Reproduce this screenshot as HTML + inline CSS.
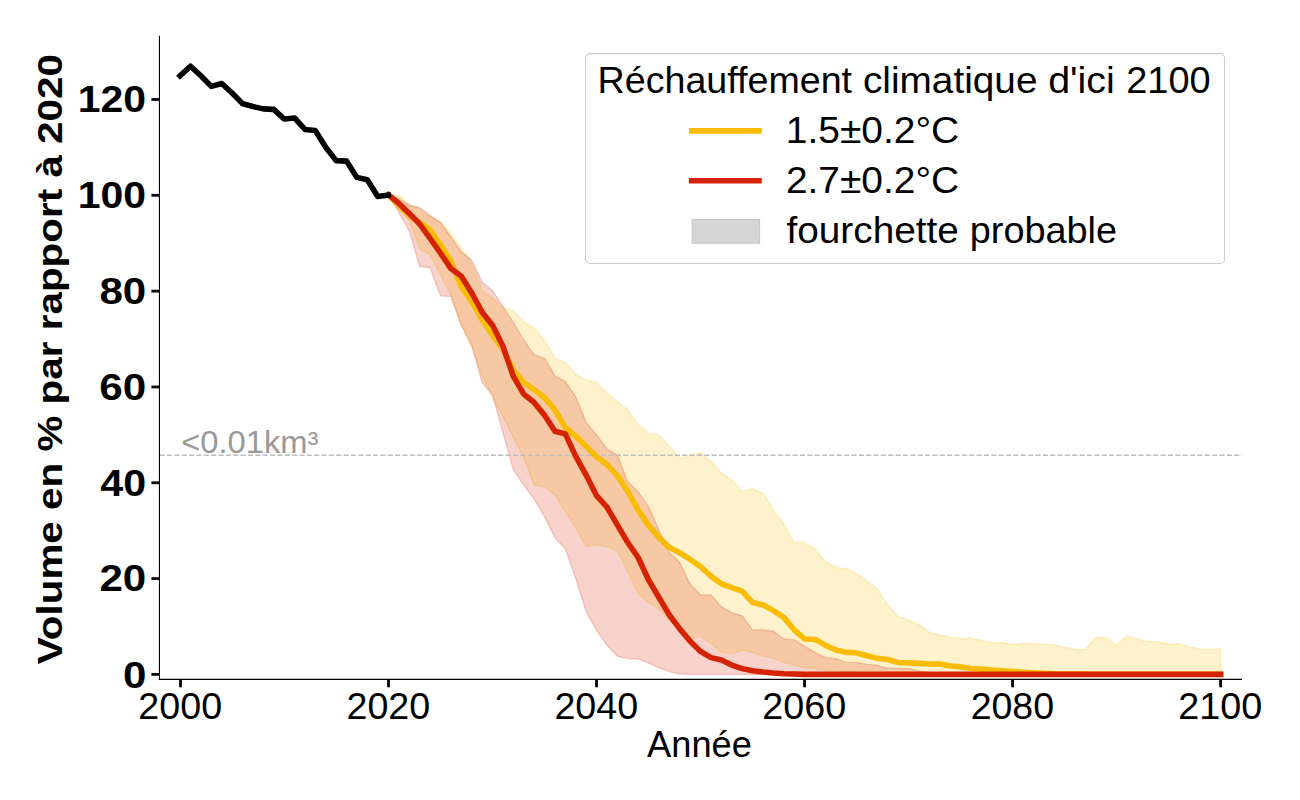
<!DOCTYPE html>
<html><head><meta charset="utf-8"><style>
html,body{margin:0;padding:0;background:#fff;width:1300px;height:800px;overflow:hidden}
svg{display:block;font-family:"Liberation Sans", sans-serif}
</style></head><body>
<svg width="1300" height="800" viewBox="0 0 1300 800">
<rect width="1300" height="800" fill="#fff"/>
<polygon points="388.52,194.82 398.92,195.30 409.32,204.88 419.72,208.71 430.12,216.86 440.52,221.65 450.93,233.63 461.33,248.00 471.73,263.33 482.13,290.64 492.53,297.83 502.93,307.89 513.33,310.76 523.73,321.78 534.13,328.01 544.53,339.99 554.94,358.19 565.34,362.51 575.74,374.48 586.14,379.75 596.54,382.63 606.94,392.69 617.34,401.31 627.74,409.94 638.14,424.31 648.55,433.41 658.95,434.85 669.35,445.87 679.75,458.80 690.15,454.97 700.55,452.58 710.95,461.20 721.35,472.70 731.75,479.89 742.15,491.38 752.55,488.75 762.96,493.30 773.36,510.07 783.76,523.48 794.16,542.17 804.56,542.65 814.96,548.88 825.36,561.33 835.76,567.56 846.16,568.76 856.56,573.31 866.97,580.50 877.37,589.12 887.77,604.93 898.17,616.43 908.57,620.02 918.97,624.57 929.37,632.24 939.77,635.11 950.17,637.03 960.57,638.95 970.98,637.99 981.38,640.62 991.78,642.78 1002.18,642.49 1012.58,644.70 1022.98,643.26 1033.38,643.74 1043.78,644.22 1054.18,644.94 1064.59,647.09 1074.99,649.25 1085.39,649.73 1095.79,637.03 1106.19,637.99 1116.59,644.94 1126.99,636.07 1137.39,638.95 1147.79,641.34 1158.19,641.58 1168.60,644.22 1179.00,643.74 1189.40,646.61 1199.80,649.25 1210.20,649.25 1220.60,649.25 1220.60,674.40 1210.20,674.40 1199.80,674.40 1189.40,674.40 1179.00,674.40 1168.60,674.40 1158.19,674.40 1147.79,674.40 1137.39,674.40 1126.99,674.40 1116.59,674.40 1106.19,674.40 1095.79,674.40 1085.39,674.40 1074.99,674.40 1064.59,674.40 1054.18,674.40 1043.78,674.40 1033.38,674.40 1022.98,674.40 1012.58,674.40 1002.18,674.40 991.78,674.40 981.38,674.40 970.98,674.40 960.57,674.40 950.17,674.40 939.77,674.40 929.37,674.40 918.97,674.40 908.57,674.40 898.17,673.92 887.77,673.44 877.37,672.96 866.97,672.72 856.56,672.48 846.16,672.48 835.76,671.24 825.36,670.09 814.96,668.65 804.56,667.69 794.16,665.01 783.76,662.42 773.36,658.11 762.96,656.19 752.55,652.36 742.15,649.97 731.75,653.80 721.35,652.36 710.95,643.74 700.55,636.07 690.15,638.95 679.75,629.84 669.35,620.02 658.95,608.76 648.55,602.53 638.14,593.91 627.74,572.35 617.34,551.27 606.94,546.48 596.54,545.04 586.14,546.48 575.74,527.80 565.34,511.99 554.94,495.22 544.53,487.07 534.13,485.16 523.73,457.85 513.33,437.72 502.93,416.17 492.53,397.48 482.13,374.96 471.73,347.65 461.33,325.14 450.93,294.95 440.52,274.83 430.12,254.71 419.72,248.96 409.32,220.69 398.92,206.32 388.52,194.82" fill="rgb(250,188,2)" fill-opacity="0.2" stroke="rgb(250,188,2)" stroke-opacity="0.2" stroke-width="1.4" stroke-linejoin="round"/>
<polygon points="388.52,194.82 398.92,198.65 409.32,204.88 419.72,207.76 430.12,215.42 440.52,222.61 450.93,236.98 461.33,251.83 471.73,259.98 482.13,282.02 492.53,290.64 502.93,306.45 513.33,322.26 523.73,339.99 534.13,354.84 544.53,358.19 554.94,375.92 565.34,381.67 575.74,397.00 586.14,422.39 596.54,434.85 606.94,449.22 617.34,454.97 627.74,481.80 638.14,491.86 648.55,506.71 658.95,530.19 669.35,552.71 679.75,562.29 690.15,584.33 700.55,594.87 710.95,594.87 721.35,606.85 731.75,612.60 742.15,615.95 752.55,629.84 762.96,629.84 773.36,631.28 783.76,638.95 794.16,639.90 804.56,646.13 814.96,652.36 825.36,657.63 835.76,658.59 846.16,662.42 856.56,662.42 866.97,664.34 877.37,665.30 887.77,668.41 898.17,668.41 908.57,668.65 918.97,671.05 929.37,672.48 939.77,672.96 950.17,673.44 960.57,673.92 970.98,674.16 981.38,674.16 991.78,674.16 1002.18,674.16 1012.58,674.16 1022.98,674.16 1033.38,674.16 1043.78,674.16 1054.18,674.16 1064.59,674.16 1074.99,674.16 1085.39,674.16 1095.79,674.16 1106.19,674.16 1116.59,674.16 1126.99,674.16 1137.39,674.16 1147.79,674.16 1158.19,674.16 1168.60,674.16 1179.00,674.16 1189.40,674.16 1199.80,674.16 1210.20,674.16 1220.60,674.16 1220.60,674.40 1210.20,674.40 1199.80,674.40 1189.40,674.40 1179.00,674.40 1168.60,674.40 1158.19,674.40 1147.79,674.40 1137.39,674.40 1126.99,674.40 1116.59,674.40 1106.19,674.40 1095.79,674.40 1085.39,674.40 1074.99,674.40 1064.59,674.40 1054.18,674.40 1043.78,674.40 1033.38,674.40 1022.98,674.40 1012.58,674.40 1002.18,674.40 991.78,674.40 981.38,674.40 970.98,674.40 960.57,674.40 950.17,674.40 939.77,674.40 929.37,674.40 918.97,674.40 908.57,674.40 898.17,674.40 887.77,674.40 877.37,674.40 866.97,674.40 856.56,674.40 846.16,674.40 835.76,674.40 825.36,674.40 814.96,674.40 804.56,674.40 794.16,674.40 783.76,674.40 773.36,674.40 762.96,674.40 752.55,674.40 742.15,674.40 731.75,674.40 721.35,674.40 710.95,674.40 700.55,674.40 690.15,674.40 679.75,673.92 669.35,671.72 658.95,667.69 648.55,662.90 638.14,659.07 627.74,658.59 617.34,656.19 606.94,645.17 596.54,630.32 586.14,611.64 575.74,578.58 565.34,548.88 554.94,537.86 544.53,516.78 534.13,499.05 523.73,485.16 513.33,469.82 502.93,432.45 492.53,395.08 482.13,382.63 471.73,345.02 461.33,325.14 450.93,296.39 440.52,295.91 430.12,267.64 419.72,266.69 409.32,231.23 398.92,212.55 388.52,194.82" fill="rgb(213,34,0)" fill-opacity="0.2" stroke="rgb(213,34,0)" stroke-opacity="0.2" stroke-width="1.4" stroke-linejoin="round"/>
<line x1="159.6" y1="455.3" x2="1242" y2="455.3" stroke="#bdbdbd" stroke-width="1.39" stroke-dasharray="5.14 2.22"/>
<polyline points="388.52,194.82 398.92,205.84 409.32,215.90 419.72,222.61 430.12,229.80 440.52,245.13 450.93,260.94 461.33,286.33 471.73,301.66 482.13,319.87 492.53,335.20 502.93,349.57 513.33,370.17 523.73,382.15 534.13,389.81 544.53,397.48 554.94,409.94 565.34,427.66 575.74,436.29 586.14,446.35 596.54,456.89 606.94,464.55 617.34,475.57 627.74,491.38 638.14,510.07 648.55,525.40 658.95,537.38 669.35,547.44 679.75,552.71 690.15,559.42 700.55,566.60 710.95,576.18 721.35,583.85 731.75,587.68 742.15,591.04 752.55,602.53 762.96,604.93 773.36,610.68 783.76,617.39 794.16,629.84 804.56,638.95 814.96,639.43 825.36,645.17 835.76,649.97 846.16,652.36 856.56,652.84 866.97,655.72 877.37,658.35 887.77,659.55 898.17,662.42 908.57,662.90 918.97,663.38 929.37,664.10 939.77,664.10 950.17,666.02 960.57,666.73 970.98,668.41 981.38,669.13 991.78,670.09 1002.18,670.81 1012.58,671.53 1022.98,672.24 1033.38,672.87 1043.78,673.35 1054.18,673.68 1064.59,673.92 1074.99,674.02 1085.39,674.11 1095.79,674.16 1106.19,674.16 1116.59,674.16 1126.99,674.16 1137.39,674.16 1147.79,674.16 1158.19,674.16 1168.60,674.16 1179.00,674.16 1189.40,674.16 1199.80,674.16 1210.20,674.16 1220.60,674.16" fill="none" stroke="rgb(250,188,2)" stroke-width="5.56" stroke-linejoin="round" stroke-linecap="square"/>
<polyline points="388.52,194.82 398.92,203.44 409.32,213.51 419.72,224.05 430.12,238.42 440.52,253.27 450.93,268.60 461.33,276.27 471.73,293.04 482.13,312.20 492.53,325.14 502.93,346.22 513.33,376.40 523.73,394.13 534.13,402.51 544.53,415.21 554.94,431.26 565.34,433.89 575.74,456.41 586.14,475.09 596.54,495.70 606.94,507.19 617.34,524.92 627.74,542.65 638.14,557.50 648.55,580.02 658.95,597.50 669.35,614.99 679.75,628.89 690.15,641.34 700.55,651.40 710.95,657.63 721.35,660.03 731.75,665.01 742.15,668.65 752.55,670.76 762.96,672.00 773.36,672.96 783.76,673.68 794.16,673.92 804.56,674.40 814.96,674.40 825.36,674.40 835.76,674.40 846.16,674.40 856.56,674.40 866.97,674.40 877.37,674.40 887.77,674.40 898.17,674.40 908.57,674.40 918.97,674.40 929.37,674.40 939.77,674.40 950.17,674.40 960.57,674.40 970.98,674.40 981.38,674.40 991.78,674.40 1002.18,674.40 1012.58,674.40 1022.98,674.40 1033.38,674.40 1043.78,674.40 1054.18,674.40 1064.59,674.40 1074.99,674.40 1085.39,674.40 1095.79,674.40 1106.19,674.40 1116.59,674.40 1126.99,674.40 1137.39,674.40 1147.79,674.40 1158.19,674.40 1168.60,674.40 1179.00,674.40 1189.40,674.40 1199.80,674.40 1210.20,674.40 1220.60,674.40" fill="none" stroke="rgb(213,34,0)" stroke-width="5.56" stroke-linejoin="round" stroke-linecap="square"/>
<polyline points="180.10,75.82 190.50,66.24 200.90,75.82 211.30,86.37 221.70,83.49 232.10,93.07 242.51,103.61 252.91,106.49 263.31,108.88 273.71,109.36 284.11,118.94 294.51,117.99 304.91,129.48 315.31,130.44 325.71,147.21 336.12,160.63 346.52,161.10 356.92,177.39 367.32,179.79 377.72,196.56 388.12,195.12" fill="none" stroke="#000" stroke-width="5.56" stroke-linejoin="round" stroke-linecap="square"/>
<line x1="159.45" y1="35.75" x2="159.45" y2="679.95" stroke="#000" stroke-width="1.11"/>
<line x1="158.9" y1="679.4" x2="1242" y2="679.4" stroke="#000" stroke-width="1.11"/>
<line x1="151.4" y1="674.40" x2="159.45" y2="674.40" stroke="#000" stroke-width="2.78"/>
<line x1="151.4" y1="578.58" x2="159.45" y2="578.58" stroke="#000" stroke-width="2.78"/>
<line x1="151.4" y1="482.76" x2="159.45" y2="482.76" stroke="#000" stroke-width="2.78"/>
<line x1="151.4" y1="386.94" x2="159.45" y2="386.94" stroke="#000" stroke-width="2.78"/>
<line x1="151.4" y1="291.12" x2="159.45" y2="291.12" stroke="#000" stroke-width="2.78"/>
<line x1="151.4" y1="195.30" x2="159.45" y2="195.30" stroke="#000" stroke-width="2.78"/>
<line x1="151.4" y1="99.48" x2="159.45" y2="99.48" stroke="#000" stroke-width="2.78"/>
<line x1="180.50" y1="679.4" x2="180.50" y2="687.3" stroke="#000" stroke-width="2.78"/>
<line x1="388.52" y1="679.4" x2="388.52" y2="687.3" stroke="#000" stroke-width="2.78"/>
<line x1="596.54" y1="679.4" x2="596.54" y2="687.3" stroke="#000" stroke-width="2.78"/>
<line x1="804.56" y1="679.4" x2="804.56" y2="687.3" stroke="#000" stroke-width="2.78"/>
<line x1="1012.58" y1="679.4" x2="1012.58" y2="687.3" stroke="#000" stroke-width="2.78"/>
<line x1="1220.60" y1="679.4" x2="1220.60" y2="687.3" stroke="#000" stroke-width="2.78"/>
<rect x="585.6" y="53.6" width="638.9" height="209.9" rx="4.5" ry="4.5" fill="#fff" fill-opacity="0.8" stroke="#cccccc" stroke-width="1.1"/>
<line x1="691.7" y1="130.9" x2="759" y2="130.9" stroke="rgb(250,188,2)" stroke-width="5.56" stroke-linecap="square"/>
<line x1="691.6" y1="180.75" x2="759" y2="180.75" stroke="rgb(213,34,0)" stroke-width="5.56" stroke-linecap="square"/>
<rect x="692.2" y="219.5" width="67.4" height="23.7" fill="#d5d5d5" stroke="#c6c6c6" stroke-width="1.1"/>
<text x="122.92" y="687.58" font-size="36.20" font-weight="bold" textLength="23.40" lengthAdjust="spacingAndGlyphs">0</text>
<text x="99.40" y="591.22" font-size="36.20" font-weight="bold" textLength="46.85" lengthAdjust="spacingAndGlyphs">20</text>
<text x="100.24" y="495.56" font-size="36.20" font-weight="bold" textLength="45.83" lengthAdjust="spacingAndGlyphs">40</text>
<text x="99.31" y="399.90" font-size="36.20" font-weight="bold" textLength="46.90" lengthAdjust="spacingAndGlyphs">60</text>
<text x="99.47" y="304.42" font-size="36.20" font-weight="bold" textLength="46.82" lengthAdjust="spacingAndGlyphs">80</text>
<text x="77.80" y="208.06" font-size="36.20" font-weight="bold" textLength="68.38" lengthAdjust="spacingAndGlyphs">100</text>
<text x="77.80" y="112.40" font-size="36.20" font-weight="bold" textLength="68.38" lengthAdjust="spacingAndGlyphs">120</text>
<text x="138.37" y="718.80" font-size="36.20" textLength="83.81" lengthAdjust="spacingAndGlyphs">2000</text>
<text x="346.49" y="718.80" font-size="36.20" textLength="83.76" lengthAdjust="spacingAndGlyphs">2020</text>
<text x="554.41" y="718.80" font-size="36.20" textLength="83.81" lengthAdjust="spacingAndGlyphs">2040</text>
<text x="762.26" y="718.80" font-size="36.20" textLength="83.88" lengthAdjust="spacingAndGlyphs">2060</text>
<text x="970.67" y="718.80" font-size="36.20" textLength="83.45" lengthAdjust="spacingAndGlyphs">2080</text>
<text x="1178.35" y="718.80" font-size="36.20" textLength="83.96" lengthAdjust="spacingAndGlyphs">2100</text>
<text x="647.07" y="757.15" font-size="36.80" textLength="104.78" lengthAdjust="spacingAndGlyphs">Année</text>
<text x="597.58" y="92.90" font-size="36.80" textLength="254.47" lengthAdjust="spacingAndGlyphs">Réchauffement</text>
<text x="862.90" y="92.90" font-size="36.80" textLength="174.61" lengthAdjust="spacingAndGlyphs">climatique</text>
<text x="1048.21" y="92.90" font-size="36.80" textLength="66.62" lengthAdjust="spacingAndGlyphs">d'ici</text>
<text x="1126.29" y="92.90" font-size="36.80" textLength="84.33" lengthAdjust="spacingAndGlyphs">2100</text>
<text x="785.86" y="142.50" font-size="36.80" textLength="173.33" lengthAdjust="spacingAndGlyphs">1.5±0.2°C</text>
<text x="785.93" y="192.75" font-size="36.80" textLength="173.17" lengthAdjust="spacingAndGlyphs">2.7±0.2°C</text>
<text x="786.46" y="242.85" font-size="36.80" textLength="172.50" lengthAdjust="spacingAndGlyphs">fourchette</text>
<text x="969.79" y="242.85" font-size="36.80" textLength="147.24" lengthAdjust="spacingAndGlyphs">probable</text>
<text x="181.16" y="452.70" font-size="31.20" textLength="137.31" lengthAdjust="spacingAndGlyphs" fill="#999999">&lt;0.01km³</text>
<text x="62.20" y="664.14" font-size="35.40" font-weight="bold" textLength="610.18" lengthAdjust="spacingAndGlyphs" transform="rotate(-90 62.20 664.14)">Volume en % par rapport à 2020</text>
</svg></body></html>
